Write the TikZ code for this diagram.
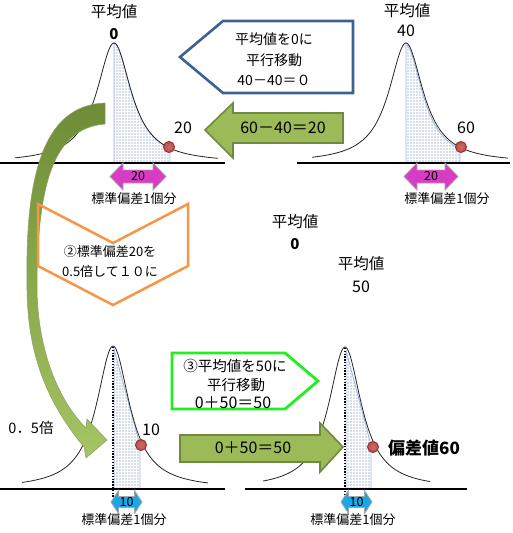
\documentclass[tikz,border=0pt]{standalone}
\usepackage{fontspec}
\setmainfont{Noto Sans CJK JP}
\usetikzlibrary{patterns}
\definecolor{magentaA}{HTML}{D93BC4}
\definecolor{cyanA}{HTML}{1DA6E5}
\definecolor{olivefill}{HTML}{9BBB59}
\definecolor{oliveedge}{HTML}{71893F}
\definecolor{arrowdark}{HTML}{6E8C36}
\definecolor{arrowlight}{HTML}{A5C463}
\definecolor{boxblue}{HTML}{3C6294}
\definecolor{callgreen}{HTML}{22EE22}
\definecolor{chevorange}{HTML}{F79646}
\definecolor{dotred}{HTML}{C0504D}
\definecolor{dotreddark}{HTML}{943330}
\definecolor{dotblue}{HTML}{5577B5}
\definecolor{edgeblue}{HTML}{9DB6DD}
\pgfdeclarepatternformonly{mydots}{\pgfqpoint{-1pt}{-1pt}}{\pgfqpoint{1pt}{1pt}}{\pgfqpoint{3pt}{3pt}}{\pgfpathcircle{\pgfqpoint{0pt}{0pt}}{0.55pt}\pgfusepath{fill}}
\newcommand\bellcurve[6]{\draw[bell] plot[domain=#5:#6, samples=150, smooth] (\x, {#2 - #3/(1+((\x-#1)/#4)^2)});}
\newcommand\dblarr[7]{\draw[#7] (#1,#3) -- ({#1+#6},{#3-#4}) -- ({#1+#6},{#3-#5}) -- ({#2-#6},{#3-#5}) -- ({#2-#6},{#3-#4}) -- (#2,#3) -- ({#2-#6},{#3+#4}) -- ({#2-#6},{#3+#5}) -- ({#1+#6},{#3+#5}) -- ({#1+#6},{#3+#4}) -- cycle;}
\begin{document}
\begin{tikzpicture}[x=1pt,y=-1pt,
  font=\fontsize{13}{15}\selectfont,
  axis/.style={line width=2.4pt, black},
  bell/.style={line width=0.8pt, black!85},
  shaderegion/.style={pattern=mydots, pattern color=dotblue, draw=edgeblue, line width=0.8pt},
  reddot/.style={inner color=dotred!85!white, outer color=dotred, draw=dotreddark, line width=1pt},
  vdots/.style={line width=1.6pt, dash pattern=on 1.4pt off 1.4pt},
  magarrow/.style={fill=magentaA, draw=gray!70, line width=0.8pt},
  cyanarrow/.style={fill=cyanA, draw=gray!70, line width=0.8pt},
  olivearrow/.style={fill=olivefill, draw=oliveedge, line width=1.6pt},
  lbl/.style={inner sep=0pt, anchor=center},
  meanlbl/.style={inner sep=0pt, anchor=center, font=\fontsize{15.5}{17}\selectfont},
  numlbl/.style={inner sep=0pt, anchor=center, font=\fontsize{16}{18}\selectfont},
  boldlbl/.style={inner sep=0pt, anchor=center, font=\fontsize{15}{17}\selectfont\bfseries}]
\useasboundingbox (0,0) rectangle (513,533);
\fill[white] (0,0) rectangle (513,533);

% ---------- panel 1 (top-left)
\path[shaderegion] (114,163) -- plot[domain=114:170, samples=60, smooth] (\x, {163 - 120/(1+((\x-114)/21)^2)}) -- (170,163) -- cycle;
\bellcurve{114}{163}{120}{21}{15}{218}
\draw[axis] (0,163) -- (225,163);
\shade[reddot] (169,147) circle (5.5);
\node[meanlbl] (p1mean) at (114,12) {平均値};
\node[boldlbl] (p1zero) at (114,34) {0};
\node[numlbl] (p1twenty) at (183,128) {20};
\dblarr{110}{166}{176.5}{13.5}{6.5}{13}{magarrow}
\node[lbl, font=\fontsize{12.5}{14}\selectfont] (p1sd) at (138,176.5) {20};
\node[lbl] (p1unit) at (134,199) {標準偏差1個分};

% ---------- panel 2 (top-right)
\path[shaderegion] (406,163) -- plot[domain=406:460, samples=60, smooth] (\x, {163 - 118/(1+((\x-406)/20)^2)}) -- (460,163) -- cycle;
\bellcurve{406}{163}{120}{21}{312}{508}
\draw[axis] (297,163) -- (510,163);
\shade[reddot] (461,147) circle (5.5);
\node[meanlbl] (p2mean) at (407,11) {平均値};
\node[numlbl] (p2forty) at (406,31) {40};
\node[numlbl] (p2sixty) at (466,128) {60};
\dblarr{404}{458}{176.5}{13.5}{6.5}{13}{magarrow}
\node[lbl, font=\fontsize{12.5}{14}\selectfont] (p2sd) at (431,176.5) {20};
\node[lbl] (p2unit) at (447,199) {標準偏差1個分};

% ---------- blue callout
\draw[boxblue, line width=2.6pt, fill=white, line join=miter] (180,57) -- (223,21) -- (353,21) -- (353,93) -- (223,93) -- cycle;
\node[lbl, font=\fontsize{14}{16}\selectfont] (bx1) at (274,39) {平均値を0に};
\node[lbl, font=\fontsize{14}{16}\selectfont] (bx2) at (274,60) {平行移動};
\node[lbl, font=\fontsize{14}{16}\selectfont] (bx3) at (274,80) {40－40＝０};

% ---------- green left arrow
\draw[olivearrow] (205,130) -- (233,103) -- (233,113) -- (343,113) -- (343,143) -- (233,143) -- (233,158) -- cycle;
\node[lbl, font=\fontsize{16}{18}\selectfont] (ga1) at (283,128) {60－40＝20};

% ---------- center labels
\node[meanlbl] (cm1) at (295,222) {平均値};
\node[boldlbl] (cm1v) at (295,244) {0};
\node[meanlbl] (cm2) at (361,264) {平均値};
\node[numlbl] (cm2v) at (361,287) {50};

% ---------- panel 3 (bottom-left)
\path[shaderegion] (114,349) -- (140,445) -- (140,489) -- (114,489) -- cycle;
\bellcurve{113}{489}{143}{20}{22}{208}
\draw[vdots] (113,347) -- (113,498);
\draw[axis] (0,489) -- (225,489);
\shade[reddot] (141,445) circle (5.5);
\node[lbl, font=\fontsize{14.5}{16}\selectfont] (p3half) at (31,428) {0．5倍};
\node[numlbl] (p3ten) at (151,430) {10};
\dblarr{111}{142}{502}{11.5}{5.5}{7.5}{cyanarrow}
\node[lbl, font=\fontsize{12.5}{14}\selectfont] (p3sd) at (126.5,502) {10};
\node[lbl] (p3unit) at (124,520) {標準偏差1個分};

% ---------- panel 4 (bottom-right)
\path[shaderegion] (346,350) -- (371,445) -- (371,489) -- (346,489) -- cycle;
\bellcurve{345}{489}{142}{20}{263}{430}
\draw[vdots] (345,348) -- (345,498);
\draw[axis] (245,489) -- (467,489);
\shade[reddot] (373,447) circle (5.5);
\node[lbl, font=\fontsize{17}{19}\selectfont\bfseries] (p4score) at (424,448) {偏差値60};
\dblarr{341}{372}{502}{11.5}{5.5}{7.5}{cyanarrow}
\node[lbl, font=\fontsize{12.5}{14}\selectfont] (p4sd) at (356.5,502) {10};
\node[lbl] (p4unit) at (353,520) {標準偏差1個分};

% ---------- green callout
\draw[callgreen, line width=2.8pt, fill=white, line join=miter] (172,353) -- (285,353) -- (318,381) -- (285,409) -- (172,409) -- cycle;
\node[lbl, font=\fontsize{14.5}{16}\selectfont] (gc1) at (235,366) {③平均値を50に};
\node[lbl, font=\fontsize{14.5}{16}\selectfont] (gc2) at (236,385) {平行移動};
\node[lbl, font=\fontsize{16}{18}\selectfont] (gc3) at (233,403) {0＋50＝50};

% ---------- green right arrow
\draw[olivearrow] (180,435) -- (320,435) -- (320,423) -- (343,447) -- (320,472) -- (320,462) -- (180,462) -- cycle;
\node[lbl, font=\fontsize{16}{18}\selectfont] (ga2) at (253,448) {0＋50＝50};

% ---------- big curved arrow
\shade[top color=arrowdark, bottom color=arrowlight, draw=oliveedge!80, line width=0.5pt]
  (105,103) .. controls (55,105) and (25,150) .. (27,280)
  .. controls (26,350) and (45,400) .. (84,447)
  -- (86,458) -- (107,440) -- (87,419) -- (86,428)
  .. controls (58,400) and (38,350) .. (37,290)
  .. controls (37,180) and (55,128) .. (105,124) -- cycle;

% ---------- orange chevron
\draw[chevorange, line width=2.5pt, line join=miter] (38,204) -- (113,243) -- (188,204) -- (188,266) -- (113,305) -- (38,266) -- cycle;
\node[lbl] (ch1) at (110,252) {②標準偏差20を};
\node[lbl] (ch2) at (110,272) {0.5倍して１０に};
\end{tikzpicture}
\end{document}
